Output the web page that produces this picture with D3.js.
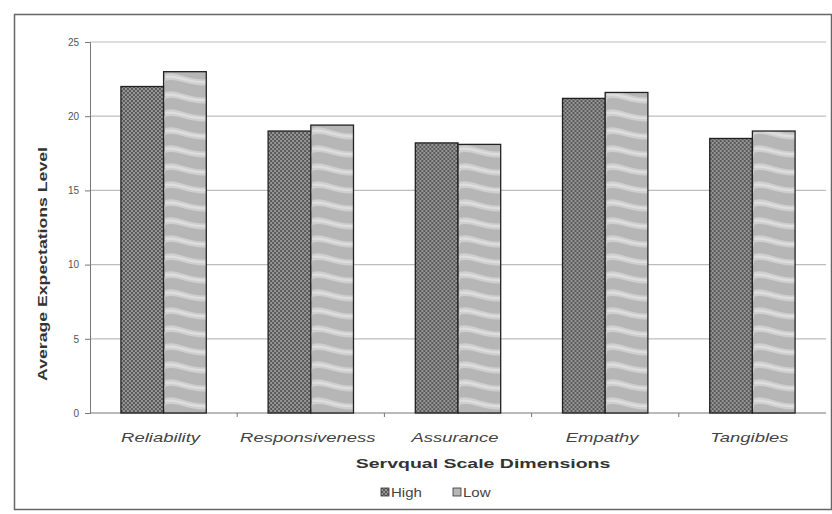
<!DOCTYPE html>
<html>
<head>
<meta charset="utf-8">
<script src="https://cdn.jsdelivr.net/npm/d3@7"></script>
<style>
  html, body { margin: 0; padding: 0; background: #fff; }
  svg { display: block; font-family: "Liberation Sans", Arial, sans-serif; }
</style>
</head>
<body>
<svg id="chart" width="832" height="514"></svg>
<script>
// Average expectation scores by SERVQUAL dimension, split by group
const categories = ["Reliability", "Responsiveness", "Assurance", "Empathy", "Tangibles"];
const seriesNames = ["High", "Low"];
const highValues = [22.0, 19.0, 18.2, 21.2, 18.5];
const lowValues  = [23.0, 19.4, 18.1, 21.6, 19.0];
const yTicks = [0, 5, 10, 15, 20, 25];

const svg = d3.select("#chart");

// Fill patterns: dotted dark gray for High, wavy light gray for Low
const defs = svg.append("defs");
const dots = defs.append("pattern")
  .attr("id", "pat-high").attr("patternUnits", "userSpaceOnUse")
  .attr("width", 4).attr("height", 4);
dots.append("rect").attr("width", 4).attr("height", 4).attr("fill", "#595959");
dots.append("circle").attr("cx", 1).attr("cy", 1).attr("r", 0.9).attr("fill", "#b4b4b4");
dots.append("circle").attr("cx", 3).attr("cy", 3).attr("r", 0.9).attr("fill", "#b4b4b4");

const waves = defs.append("pattern")
  .attr("id", "pat-low").attr("patternUnits", "userSpaceOnUse")
  .attr("width", 44).attr("height", 18);
waves.append("rect").attr("width", 44).attr("height", 18).attr("fill", "#b6b6b6");
waves.append("path")
  .attr("d", "M0,2 C12,-2 26,10 44,7 L44,13 C26,16 12,5 0,9 Z")
  .attr("fill", "#cfcfcf");
waves.append("path")
  .attr("d", "M0,4 C12,1 26,11 44,9 L44,11 C26,13 12,4 0,6 Z")
  .attr("fill", "#dedede");

// Outer frame
svg.append("rect")
  .attr("x", 14.5).attr("y", 14.5).attr("width", 817).attr("height", 495)
  .attr("fill", "none").attr("stroke", "#666").attr("stroke-width", 1.5);

const plotLeft = 90, plotRight = 826, plotTop = 42, plotBottom = 413;

const y = d3.scaleLinear().domain([0, 25]).range([plotBottom, plotTop]);
const x0 = d3.scaleBand().domain(categories).range([plotLeft, plotRight])
  .paddingInner(0.42).paddingOuter(0.21);
const x1 = d3.scaleBand().domain(seriesNames).range([0, x0.bandwidth()]);

// Horizontal gridlines
svg.append("g")
  .selectAll("line").data(yTicks.filter(t => t > 0)).join("line")
  .attr("x1", plotLeft).attr("x2", plotRight)
  .attr("y1", d => y(d)).attr("y2", d => y(d))
  .attr("stroke", "#bdbdbd").attr("stroke-width", 1.2);

// Y axis
const yAxis = svg.append("g")
  .attr("transform", `translate(${plotLeft},0)`)
  .call(d3.axisLeft(y).tickValues(yTicks).tickSize(5).tickPadding(6));
yAxis.select(".domain").attr("stroke", "#777");
yAxis.selectAll(".tick line").attr("stroke", "#777");
yAxis.selectAll(".tick text").attr("fill", "#555").style("font-size", "10px");

// X axis with ticks between categories
const xAxisG = svg.append("g").attr("transform", `translate(0,${plotBottom})`);
xAxisG.append("line")
  .attr("x1", plotLeft).attr("x2", plotRight)
  .attr("stroke", "#777").attr("stroke-width", 1.2);
const step = x0.step();
xAxisG.selectAll("line.sep").data(categories.slice(1)).join("line")
  .attr("class", "sep")
  .attr("x1", d => x0(d) - step * x0.paddingInner() / 2)
  .attr("x2", d => x0(d) - step * x0.paddingInner() / 2)
  .attr("y1", 0).attr("y2", 4)
  .attr("stroke", "#777");
xAxisG.selectAll("g.cat").data(categories).join("g")
  .attr("class", "cat")
  .attr("transform", d => `translate(${x0(d) + x0.bandwidth() / 2 - 3},29) scale(1.42,1)`)
  .append("text")
  .attr("text-anchor", "middle")
  .attr("font-style", "italic")
  .attr("fill", "#444")
  .style("font-size", "13px")
  .text(d => d);

// Bars
const rows = categories.map((c, i) => ({ cat: c, High: highValues[i], Low: lowValues[i] }));
const groups = svg.append("g").selectAll("g").data(rows).join("g")
  .attr("transform", d => `translate(${x0(d.cat)},0)`);
groups.selectAll("rect")
  .data(d => seriesNames.map(s => ({ s, v: d[s] })))
  .join("rect")
  .attr("x", d => x1(d.s))
  .attr("y", d => y(d.v))
  .attr("width", x1.bandwidth())
  .attr("height", d => y(0) - y(d.v))
  .attr("fill", d => d.s === "High" ? "url(#pat-high)" : "url(#pat-low)")
  .attr("stroke", "#222").attr("stroke-width", 1.3);

// Axis titles
svg.append("text")
  .attr("transform", "translate(483,468) scale(1.5,1)")
  .attr("text-anchor", "middle").attr("font-weight", "bold")
  .attr("fill", "#333").style("font-size", "13px")
  .text("Servqual Scale Dimensions");
svg.append("text")
  .attr("transform", "translate(47,264) rotate(-90) scale(1.36,1)")
  .attr("text-anchor", "middle").attr("font-weight", "bold")
  .attr("fill", "#333").style("font-size", "13px")
  .text("Average Expectations Level");

// Legend
const legend = svg.append("g").attr("transform", "translate(381,497)");
const legendItems = legend.selectAll("g").data(seriesNames).join("g")
  .attr("transform", (d, i) => `translate(${i * 72},0)`);
legendItems.append("rect")
  .attr("x", 0).attr("y", -9).attr("width", 8).attr("height", 8)
  .attr("fill", d => d === "High" ? "url(#pat-high)" : "url(#pat-low)")
  .attr("stroke", "#333").attr("stroke-width", 0.8);
legendItems.append("text")
  .attr("transform", "translate(10,0) scale(1.25,1)")
  .attr("fill", "#444").style("font-size", "12px")
  .text(d => d);
</script>
</body>
</html>
